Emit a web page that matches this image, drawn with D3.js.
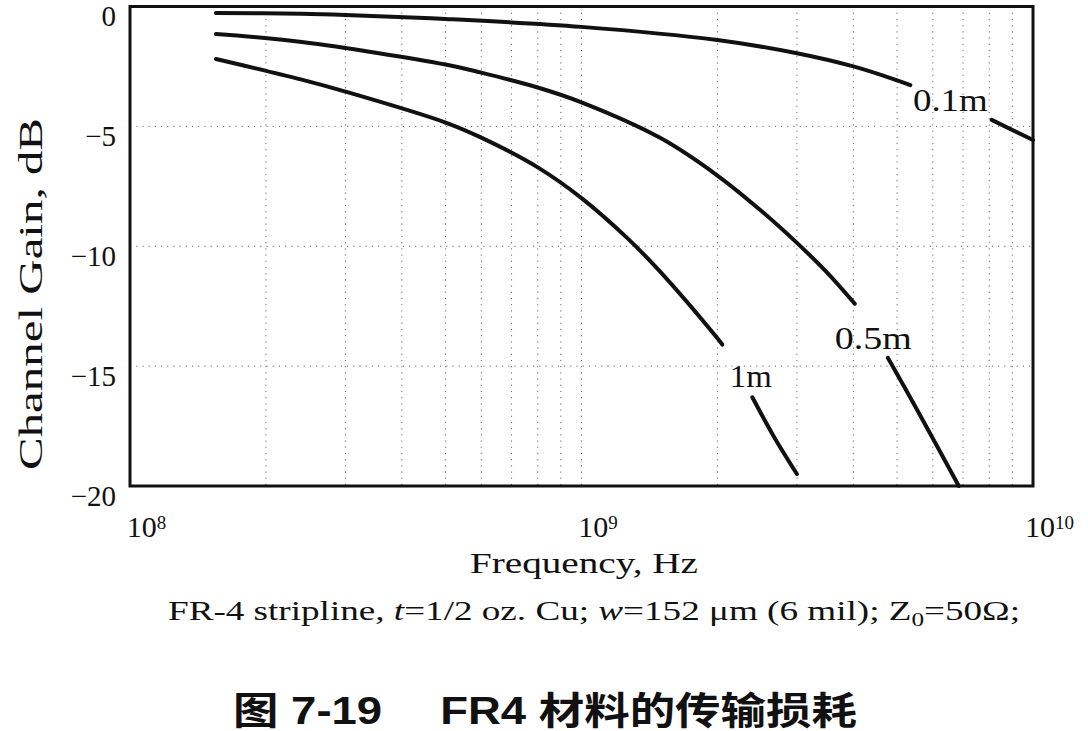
<!DOCTYPE html>
<html>
<head>
<meta charset="utf-8">
<script src="https://cdn.jsdelivr.net/npm/d3@7"></script>
<style>
  body { margin: 0; background: #fff; }
  svg { display: block; }
  .tick-label { font-family: "Liberation Serif", "Times New Roman", Times, serif; font-size: 30px; fill: #111; }
  .grid-line { stroke: #666; stroke-width: 1; stroke-dasharray: 1.2,5; }
  .curve { fill: none; stroke: #111; stroke-width: 4; stroke-linecap: round; }
</style>
</head>
<body>
<div id="viz"></div>
<script>
const width = 1088
const height = 731
const plot = {left: 130, right: 1033, top: 6.5, bottom: 486}

// data (frequency in Hz, gain in dB); null = gap for the label
const seriesNames = ["0.1m", "0.5m", "1m"]
const freq01 = [1.55e8, 2.4e8, 3e8, 5e8, 1e9, 2e9, 3e9, 4e9, 5e9, 5.35e9, null, 8.1e9, 1e10]
const gain01 = [-0.27, -0.30, -0.35, -0.52, -0.85, -1.40, -1.95, -2.50, -3.08, -3.28, null, -4.73, -5.57]
const freq05 = [1.55e8, 2.4e8, 5e8, 6e8, 8e8, 1e9, 1.5e9, 2e9, 2.5e9, 3e9, 3.5e9, 4.03e9, null, 4.77e9, 5.54e9, 6.85e9]
const gain05 = [-1.15, -1.48, -2.42, -2.76, -3.38, -4.00, -5.50, -7.05, -8.52, -9.86, -11.1, -12.4, null, -14.65, -16.83, -20]
const freq1 = [1.55e8, 2.4e8, 3e8, 5e8, 6e8, 8e8, 1e9, 1.26e9, 1.49e9, 2e9, 2.05e9, null, 2.39e9, 2.66e9, 3.0e9]
const gain1 = [-2.19, -3.05, -3.55, -4.84, -5.47, -6.71, -7.99, -9.64, -11.04, -13.84, -14.1, null, -16.3, -17.9, -19.5]

// label anchors (data units) and widths
const labelFreq = [5.42e9, 3.64e9, 2.13e9]
const labelGain = [-4.36, -14.28, -15.87]
const labelLen = [75, 77, 42]

const yTicks = [0, -5, -10, -15, -20]
const xTicks = [1e8, 1e9, 1e10]
const xTickExp = ["8", "9", "10"]

const svg = d3.select("#viz")
  .append("svg")
  .attr("width", width)
  .attr("height", height)

const xScale = d3.scaleLog().domain([1e8, 1e10]).range([plot.left, plot.right])
const yScale = d3.scaleLinear().domain([-20, 0]).range([plot.bottom, plot.top])

// minor log grid
const gridX = []
for (let dec of [1e8, 1e9]) {
  for (let k = 2; k <= 10; k++) gridX.push(dec * k)
}
gridX.pop()

svg.append("g")
  .selectAll("line")
  .data(gridX)
  .enter().append("line")
  .attr("class", "grid-line")
  .attr("x1", d => xScale(d))
  .attr("x2", d => xScale(d))
  .attr("y1", plot.top)
  .attr("y2", plot.bottom)

svg.append("g")
  .selectAll("line")
  .data([-5, -10, -15])
  .enter().append("line")
  .attr("class", "grid-line")
  .attr("x1", plot.left)
  .attr("x2", plot.right)
  .attr("y1", d => yScale(d))
  .attr("y2", d => yScale(d))

// y axis tick labels
const yAxisG = svg.append("g")
  .attr("transform", "translate(" + plot.left + ",10)")
  .call(d3.axisLeft(yScale)
    .tickValues(yTicks)
    .tickSize(0)
    .tickPadding(14)
    .tickFormat(d => d === 0 ? "0" : "\u2212" + Math.abs(d)))
yAxisG.attr("font-family", null).attr("font-size", null)
yAxisG.select(".domain").remove()
yAxisG.selectAll("text").attr("class", "tick-label").style("font-size", "29px")

// x axis tick labels as 10^n
const xAxisG = svg.append("g")
  .attr("transform", "translate(16," + plot.bottom + ")")
  .call(d3.axisBottom(xScale)
    .tickValues(xTicks)
    .tickSize(0)
    .tickPadding(30)
    .tickFormat(() => "10"))
xAxisG.attr("font-family", null).attr("font-size", null)
xAxisG.select(".domain").remove()
xAxisG.selectAll("text")
  .attr("class", "tick-label")
  .each(function(d, i) {
    d3.select(this).append("tspan")
      .attr("dy", "-0.45em")
      .style("font-size", "19px")
      .text(xTickExp[i])
  })

// curves
const names = ["c01", "c05", "c1"]
const curveData = [
  freq01.map((f, i) => [f, gain01[i]]),
  freq05.map((f, i) => [f, gain05[i]]),
  freq1.map((f, i) => [f, gain1[i]])
]
const line = d3.line()
  .defined(d => d[0] !== null && d[1] !== null)
  .x(d => xScale(d[0]))
  .y(d => yScale(d[1]))
  .curve(d3.curveCatmullRom.alpha(0.5))

svg.append("g")
  .selectAll("path")
  .data(curveData)
  .enter().append("path")
  .attr("class", (d, i) => "curve " + names[i])
  .attr("d", line)

// curve labels
svg.append("g")
  .selectAll("text")
  .data(seriesNames)
  .enter().append("text")
  .attr("class", "tick-label")
  .attr("x", (d, i) => xScale(labelFreq[i]))
  .attr("y", (d, i) => yScale(labelGain[i]))
  .attr("textLength", (d, i) => labelLen[i])
  .attr("lengthAdjust", "spacingAndGlyphs")
  .style("font-size", "31px")
  .text(d => d)

// frame
svg.append("rect")
  .attr("x", plot.left)
  .attr("y", plot.top)
  .attr("width", plot.right - plot.left)
  .attr("height", plot.bottom - plot.top)
  .attr("fill", "none")
  .attr("stroke", "#111")
  .attr("stroke-width", 3)

// axis titles
svg.append("text")
  .attr("class", "tick-label")
  .attr("x", 470)
  .attr("y", 573)
  .attr("textLength", 228)
  .attr("lengthAdjust", "spacingAndGlyphs")
  .style("font-size", "30px")
  .text("Frequency, Hz")

svg.append("text")
  .attr("class", "tick-label")
  .attr("transform", "rotate(-90)")
  .attr("x", -470)
  .attr("y", 42)
  .attr("textLength", 352)
  .attr("lengthAdjust", "spacingAndGlyphs")
  .style("font-size", "33px")
  .text("Channel Gain, dB")

// note line under the axis
const note = svg.append("text")
  .attr("class", "tick-label")
  .attr("x", 168)
  .attr("y", 620)
  .attr("textLength", 852)
  .attr("lengthAdjust", "spacingAndGlyphs")
  .style("font-size", "28px")
note.append("tspan").text("FR-4 stripline, ")
note.append("tspan").style("font-style", "italic").text("t")
note.append("tspan").text("=1/2 oz. Cu; ")
note.append("tspan").style("font-style", "italic").text("w")
note.append("tspan").text("=152 \u03bcm (6 mil); Z")
note.append("tspan").attr("dy", 6).style("font-size", "19px").text("0")
note.append("tspan").attr("dy", -6).text("=50\u03a9;")

// figure caption
svg.append("text")
  .attr("x", 233)
  .attr("y", 724)
  .attr("textLength", 624)
  .attr("lengthAdjust", "spacingAndGlyphs")
  .style("font-family", "'Liberation Sans', 'Noto Sans CJK SC', sans-serif")
  .style("font-weight", "bold")
  .style("font-size", "38px")
  .style("fill", "#111")
  .text("\u56fe 7-19\u2003 FR4 \u6750\u6599\u7684\u4f20\u8f93\u635f\u8017")
</script>
</body>
</html>
